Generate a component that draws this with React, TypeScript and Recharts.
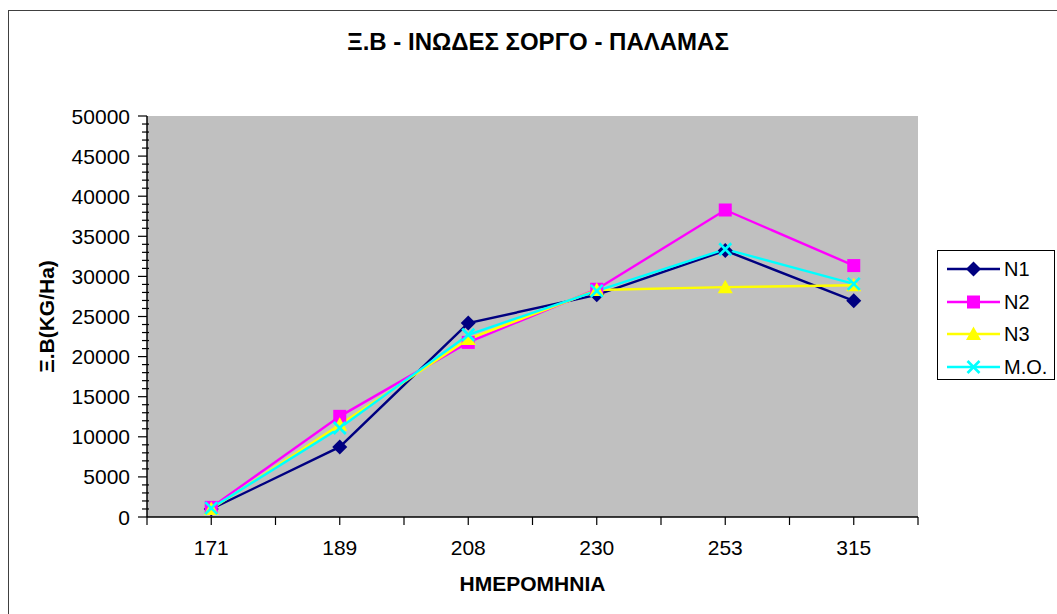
import React from 'react';
import { LineChart, Line, XAxis, YAxis, CartesianGrid, Legend, Label } from 'recharts';

const days = ['171', '189', '208', '230', '253', '315'];
const n1 = [1000, 8740, 24180, 27700, 33220, 26950];
const n2 = [1200, 12550, 21770, 28400, 38280, 31350];
const n3 = [1000, 11500, 22180, 28300, 28660, 28900];
const mo = [1100, 11100, 22720, 28200, 33390, 29070];
const yMajorTicks = [0, 5000, 10000, 15000, 20000, 25000, 30000, 35000, 40000, 45000, 50000];
const yMinorStep = 1000;

const title = 'Ξ.Β - ΙΝΩΔΕΣ ΣΟΡΓΟ - ΠΑΛΑΜΑΣ';
const yTitle = 'Ξ.Β(KG/Ha)';
const xTitle = 'ΗΜΕΡΟΜΗΝΙΑ';

const data = days.map((d, i) => ({ day: d, N1: n1[i], N2: n2[i], N3: n3[i], MO: mo[i] }));
const yAllTicks: number[] = [];
for (let v = 0; v <= yMajorTicks[yMajorTicks.length - 1]; v += yMinorStep) yAllTicks.push(v);

const FONT = '"Liberation Sans", Arial, sans-serif';

type Shape = 'diamond' | 'square' | 'triangle' | 'x';

const series: { key: string; name: string; color: string; shape: Shape }[] = [
  { key: 'N1', name: 'N1', color: '#000080', shape: 'diamond' },
  { key: 'N2', name: 'N2', color: '#FF00FF', shape: 'square' },
  { key: 'N3', name: 'N3', color: '#FFFF00', shape: 'triangle' },
  { key: 'MO', name: 'M.O.', color: '#00FFFF', shape: 'x' },
];

function Marker({ cx, cy, shape, color }: { cx: number; cy: number; shape: Shape; color: string }) {
  if (cx == null || cy == null) return null;
  if (shape === 'diamond') {
    const h = 7.5;
    return <polygon points={`${cx},${cy - h} ${cx + h},${cy} ${cx},${cy + h} ${cx - h},${cy}`} fill={color} />;
  }
  if (shape === 'square') {
    const h = 6.5;
    return <rect x={cx - h} y={cy - h} width={2 * h} height={2 * h} fill={color} />;
  }
  if (shape === 'triangle') {
    return <polygon points={`${cx},${cy - 7.5} ${cx + 7.5},${cy + 6} ${cx - 7.5},${cy + 6}`} fill={color} />;
  }
  const h = 6;
  return (
    <g stroke={color} strokeWidth={2.6}>
      <line x1={cx - h} y1={cy - h} x2={cx + h} y2={cy + h} />
      <line x1={cx - h} y1={cy + h} x2={cx + h} y2={cy - h} />
    </g>
  );
}

const makeDot = (shape: Shape, color: string) => (props: any) => (
  <Marker key={`${shape}-${props.index}`} cx={props.cx} cy={props.cy} shape={shape} color={color} />
);

const YTick = (props: any) => {
  const { x, y, payload } = props;
  const v = payload.value;
  const major = v % 5000 === 0;
  return (
    <g>
      {major ? (
        <line x1={x - 9} y1={y} x2={x} y2={y} stroke="#000" strokeWidth={1.2} />
      ) : (
        <line x1={x - 5} y1={y} x2={x + 2} y2={y} stroke="#000" strokeWidth={1.2} />
      )}
      {major && (
        <text x={x - 17} y={y} dy="0.36em" textAnchor="end" fontFamily={FONT} fontSize={21} fill="#000">
          {v}
        </text>
      )}
    </g>
  );
};

const XTick = (props: any) => {
  const { x, y, payload, index } = props;
  const half = payload && payload.offset ? payload.offset : 64.25;
  return (
    <g>
      <line x1={x} y1={y} x2={x} y2={y + 8} stroke="#000" strokeWidth={1.2} />
      <line x1={x - half} y1={y} x2={x - half} y2={y + 8} stroke="#000" strokeWidth={1.2} />
      {index === days.length - 1 && (
        <line x1={x + half} y1={y} x2={x + half} y2={y + 8} stroke="#000" strokeWidth={1.2} />
      )}
      <text x={x} y={y + 38} textAnchor="middle" fontFamily={FONT} fontSize={21} fill="#000">
        {payload.value}
      </text>
    </g>
  );
};

const LegendContent = () => (
  <div
    style={{
      border: '1px solid #000',
      background: '#fff',
      width: 118,
      height: 130,
      boxSizing: 'border-box',
      fontFamily: FONT,
      fontSize: 20,
      paddingTop: 2,
    }}
  >
    {series.map((s) => (
      <div key={s.key} style={{ display: 'flex', alignItems: 'center', height: 32.5 }}>
        <svg width={62} height={20} style={{ display: 'block' }}>
          <line x1={9} y1={10} x2={62} y2={10} stroke={s.color} strokeWidth={2.4} />
          <Marker cx={35.5} cy={10} shape={s.shape} color={s.color} />
        </svg>
        <span style={{ marginLeft: 4, lineHeight: '20px' }}>{s.name}</span>
      </div>
    ))}
  </div>
);

export default function App() {
  return (
    <div
      style={{
        position: 'fixed',
        left: 8,
        top: 8,
        width: 1049,
        height: 606,
        overflow: 'hidden',
        background: '#fff',
      }}
    >
      <div
        style={{
          position: 'absolute',
          left: 0,
          top: 2,
          width: 1100,
          height: 700,
          border: '1.5px solid #404040',
          boxSizing: 'border-box',
        }}
      />
      <div
        style={{
          position: 'absolute',
          left: 0,
          top: 21,
          width: 1060,
          textAlign: 'center',
          fontFamily: FONT,
          fontWeight: 'bold',
          fontSize: 24,
          lineHeight: '26px',
        }}
      >
        {title}
      </div>
      <div style={{ position: 'absolute', left: 0, top: 0 }}>
        <LineChart width={1049} height={598} data={data} margin={{ top: 108, right: 139, bottom: 0, left: 0 }}>
          <CartesianGrid fill="#C0C0C0" fillOpacity={1} horizontal={false} vertical={false} stroke="none" />
          <XAxis
            dataKey="day"
            scale="band"
            height={89}
            tickSize={0}
            tickMargin={0}
            tickLine={false}
            tick={<XTick />}
            interval={0}
            axisLine={{ stroke: '#000', strokeWidth: 1.5 }}
          >
            <Label
              content={(p: any) => {
                const vb = p.viewBox;
                return (
                  <text
                    x={vb.x + vb.width / 2}
                    y={vb.y + 74}
                    textAnchor="middle"
                    fontFamily={FONT}
                    fontWeight="bold"
                    fontSize={21}
                    fill="#000"
                  >
                    {xTitle}
                  </text>
                );
              }}
            />
          </XAxis>
          <XAxis
            xAxisId="top"
            dataKey="day"
            scale="band"
            orientation="top"
            height={0}
            tick={false}
            tickLine={false}
            axisLine={{ stroke: '#808080', strokeWidth: 2.5 }}
          />
          <YAxis
            type="number"
            domain={[0, 50000]}
            ticks={yAllTicks}
            interval={0}
            width={139}
            tickSize={0}
            tickMargin={0}
            tickLine={false}
            tick={<YTick />}
            axisLine={{ stroke: '#000', strokeWidth: 1.5 }}
          >
            <Label
              content={(p: any) => {
                const vb = p.viewBox;
                const cx = vb.x + 38;
                const cy = vb.y + vb.height / 2;
                return (
                  <text
                    x={cx}
                    y={cy}
                    transform={`rotate(-90 ${cx} ${cy})`}
                    textAnchor="middle"
                    dy="0.36em"
                    fontFamily={FONT}
                    fontWeight="bold"
                    fontSize={21}
                    fill="#000"
                  >
                    {yTitle}
                  </text>
                );
              }}
            />
          </YAxis>
          <YAxis
            yAxisId="right"
            orientation="right"
            type="number"
            domain={[0, 50000]}
            width={0}
            tick={false}
            tickLine={false}
            axisLine={{ stroke: '#808080', strokeWidth: 2.5 }}
          />
          <Legend
            layout="vertical"
            align="center"
            verticalAlign="middle"
            wrapperStyle={{ left: 929, top: 242, width: 118, height: 130 }}
            content={<LegendContent />}
          />
          {series.map((s) => (
            <Line
              key={s.key}
              type="linear"
              dataKey={s.key}
              name={s.name}
              stroke={s.color}
              strokeWidth={2.4}
              dot={makeDot(s.shape, s.color)}
              activeDot={false}
              isAnimationActive={false}
            />
          ))}
        </LineChart>
      </div>
    </div>
  );
}
